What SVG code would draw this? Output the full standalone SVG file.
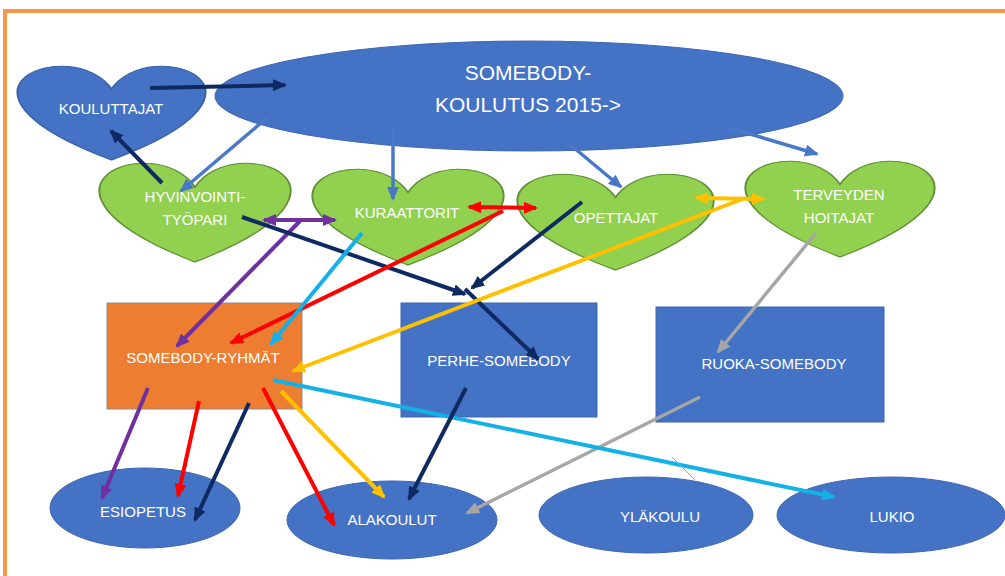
<svg xmlns="http://www.w3.org/2000/svg" width="1005" height="576" viewBox="0 0 1005 576">
<style>
.lbl{font-family:"Liberation Sans",Arial,sans-serif;font-size:15px;fill:#ffffff;text-anchor:middle}
.big{font-size:21px}
.heartg{fill:#92d050;stroke:#5f8f34;stroke-width:1}
.heartb{fill:#4472c4;stroke:#3a62a8;stroke-width:1}
.blue{fill:#4472c4;stroke:#3d66b0;stroke-width:1}
.orange{fill:#ed7d31;stroke:#8c8c8c;stroke-width:1}
.c{fill:none;stroke-width:4}
.navy{stroke:#0f2a62}
.lb{stroke:#4a78c8;stroke-width:3.5}
.pu{stroke:#7030a0}
.rd{stroke:#ff0000}
.cy{stroke:#14b1e7}
.ye{stroke:#ffc000}
.gr{stroke:#a6a6a6;stroke-width:3.5}
</style>
<defs>
<path id="heart" d="M50,25 C70.83,-33.33 152.08,25 50,100 C-52.08,25 29.17,-33.33 50,25 Z"/>
<marker id="mNavy" viewBox="0 0 14 12" refX="12" refY="6" markerWidth="14" markerHeight="12" markerUnits="userSpaceOnUse" orient="auto-start-reverse"><path d="M0,0 L14,6 L0,12 Z" fill="#0f2a62"/></marker>
<marker id="mBlue" viewBox="0 0 14 12" refX="12" refY="6" markerWidth="14" markerHeight="12" markerUnits="userSpaceOnUse" orient="auto-start-reverse"><path d="M0,0 L14,6 L0,12 Z" fill="#4a78c8"/></marker>
<marker id="mPu" viewBox="0 0 14 12" refX="12" refY="6" markerWidth="14" markerHeight="12" markerUnits="userSpaceOnUse" orient="auto-start-reverse"><path d="M0,0 L14,6 L0,12 Z" fill="#7030a0"/></marker>
<marker id="mRd" viewBox="0 0 14 12" refX="12" refY="6" markerWidth="14" markerHeight="12" markerUnits="userSpaceOnUse" orient="auto-start-reverse"><path d="M0,0 L14,6 L0,12 Z" fill="#ff0000"/></marker>
<marker id="mCy" viewBox="0 0 14 12" refX="12" refY="6" markerWidth="14" markerHeight="12" markerUnits="userSpaceOnUse" orient="auto-start-reverse"><path d="M0,0 L14,6 L0,12 Z" fill="#14b1e7"/></marker>
<marker id="mYe" viewBox="0 0 14 12" refX="12" refY="6" markerWidth="14" markerHeight="12" markerUnits="userSpaceOnUse" orient="auto-start-reverse"><path d="M0,0 L14,6 L0,12 Z" fill="#ffc000"/></marker>
<marker id="mGr" viewBox="0 0 14 12" refX="12" refY="6" markerWidth="14" markerHeight="12" markerUnits="userSpaceOnUse" orient="auto-start-reverse"><path d="M0,0 L14,6 L0,12 Z" fill="#a6a6a6"/></marker>
</defs>
<rect x="0" y="0" width="1005" height="576" fill="#ffffff"/>
<rect x="5" y="11" width="1010" height="580" fill="none" stroke="#f79646" stroke-width="4"/>

<g id="kouluttajat">
<use href="#heart" class="heartb" transform="translate(18,65) scale(1.87,0.95)"/>
<text class="lbl" x="111" y="114">KOULUTTAJAT</text>
</g>
<g id="koulutus">
<ellipse class="blue" cx="529" cy="96" rx="314" ry="55"/>
<text class="lbl big" x="528" y="80">SOMEBODY-</text>
<text class="lbl big" x="528" y="112">KOULUTUS 2015-&gt;</text>
</g>
<g id="hyvinvointi">
<use href="#heart" class="heartg" transform="translate(100,162) scale(1.9,1.0)"/>
<text class="lbl" x="195" y="202">HYVINVOINTI-</text>
<text class="lbl" x="195" y="225">TYÖPARI</text>
</g>
<g id="kuraattorit">
<use href="#heart" class="heartg" transform="translate(313,168) scale(1.9,0.97)"/>
<text class="lbl" x="407" y="218">KURAATTORIT</text>
</g>
<g id="opettajat">
<use href="#heart" class="heartg" transform="translate(518,173) scale(1.95,0.97)"/>
<text class="lbl" x="616" y="223">OPETTAJAT</text>
</g>
<g id="terveyden">
<use href="#heart" class="heartg" transform="translate(746,160) scale(1.88,0.97)"/>
<text class="lbl" x="839" y="200">TERVEYDEN</text>
<text class="lbl" x="839" y="223">HOITAJAT</text>
</g>
<g id="ryhmat">
<rect class="orange" x="107" y="303" width="195" height="106"/>
<text class="lbl" x="203" y="363">SOMEBODY-RYHMÄT</text>
</g>
<g id="perhe">
<rect class="blue" x="401" y="303" width="196" height="114"/>
<text class="lbl" x="499" y="366">PERHE-SOMEBODY</text>
</g>
<g id="ruoka">
<rect class="blue" x="656" y="307" width="228" height="115"/>
<text class="lbl" x="774" y="369">RUOKA-SOMEBODY</text>
</g>
<g id="esiopetus">
<ellipse class="blue" cx="145" cy="508" rx="95" ry="40"/>
<text class="lbl" x="143" y="517">ESIOPETUS</text>
</g>
<g id="alakoulut">
<ellipse class="blue" cx="392" cy="520" rx="105" ry="39"/>
<text class="lbl" x="392" y="525">ALAKOULUT</text>
</g>
<g id="ylakoulu">
<ellipse class="blue" cx="646" cy="515" rx="107" ry="38"/>
<text class="lbl" x="660" y="522">YLÄKOULU</text>
</g>
<g id="lukio">
<ellipse class="blue" cx="891" cy="515" rx="114" ry="38"/>
<text class="lbl" x="892" y="522">LUKIO</text>
</g>

<g id="connectors">
<line class="c navy" x1="150" y1="88" x2="285" y2="85" marker-end="url(#mNavy)"/>
<line class="c navy" x1="162" y1="183" x2="111" y2="131" marker-end="url(#mNavy)"/>
<line class="c lb" x1="268" y1="117" x2="181" y2="191" marker-end="url(#mBlue)"/>
<line class="c lb" x1="393" y1="128" x2="393" y2="199" marker-end="url(#mBlue)"/>
<line class="c lb" x1="567" y1="142" x2="621" y2="187" marker-end="url(#mBlue)"/>
<line class="c lb" x1="730" y1="128" x2="817" y2="154" marker-end="url(#mBlue)"/>
<line class="c pu" x1="264" y1="220" x2="335" y2="220" marker-start="url(#mPu)" marker-end="url(#mPu)"/>
<line class="c pu" x1="300" y1="221" x2="177" y2="346" marker-end="url(#mPu)"/>
<line class="c navy" x1="242" y1="217" x2="465" y2="294" marker-end="url(#mNavy)"/>
<line class="c navy" x1="582" y1="202" x2="472" y2="288" marker-end="url(#mNavy)"/>
<line class="c navy" x1="465" y1="289" x2="538" y2="359" marker-end="url(#mNavy)"/>
<line class="c rd" x1="469" y1="207" x2="536" y2="208" marker-start="url(#mRd)" marker-end="url(#mRd)"/>
<line class="c rd" x1="503" y1="211" x2="231" y2="343" marker-end="url(#mRd)"/>
<line class="c cy" x1="362" y1="233" x2="271" y2="344" marker-end="url(#mCy)"/>
<line class="c ye" x1="696" y1="198" x2="764" y2="199" marker-start="url(#mYe)" marker-end="url(#mYe)"/>
<line class="c ye" x1="745" y1="198" x2="293" y2="371" marker-end="url(#mYe)"/>
<line class="c gr" x1="816" y1="233" x2="718" y2="352" marker-end="url(#mGr)"/>
<line class="c gr" x1="700" y1="397" x2="467" y2="513" marker-end="url(#mGr)"/>
<line class="c cy" x1="273" y1="380" x2="834" y2="497" marker-end="url(#mCy)"/>
<line class="c pu" x1="148" y1="388" x2="102" y2="498" marker-end="url(#mPu)"/>
<line class="c rd" x1="199" y1="401" x2="178" y2="496" marker-end="url(#mRd)"/>
<line class="c navy" x1="249" y1="403" x2="195" y2="520" marker-end="url(#mNavy)"/>
<line class="c rd" x1="263" y1="388" x2="334" y2="525" marker-end="url(#mRd)"/>
<line class="c ye" x1="281" y1="391" x2="384" y2="497" marker-end="url(#mYe)"/>
<line class="c navy" x1="466" y1="388" x2="409" y2="499" marker-end="url(#mNavy)"/>
<line x1="672" y1="457" x2="695" y2="480" stroke="#9aa3b5" stroke-width="1"/>
</g>
</svg>
